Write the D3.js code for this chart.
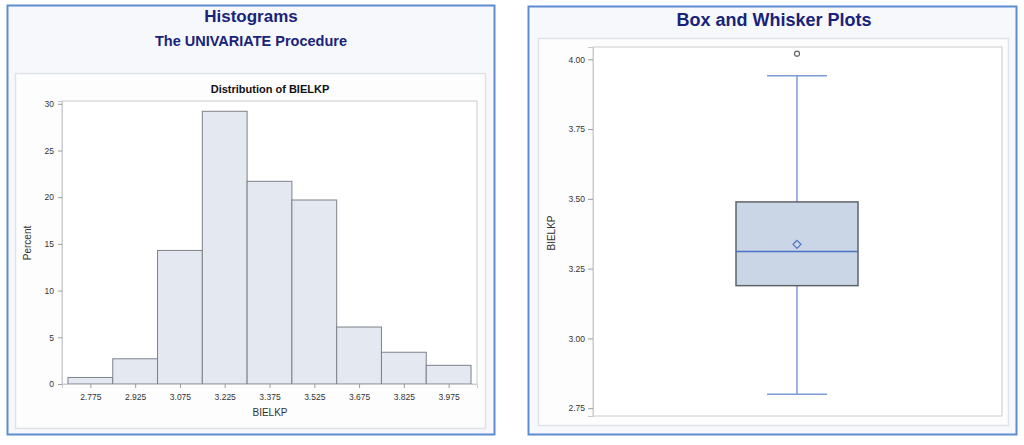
<!DOCTYPE html>
<html>
<head>
<meta charset="utf-8">
<script src="https://cdn.jsdelivr.net/npm/d3@7"></script>
<style>
  body { margin: 0; background: #fff; }
  svg { display: block; font-family: Arial, "Liberation Sans", sans-serif; }
</style>
</head>
<body>
<svg width="1024" height="445"></svg>
<script>
// histogram bins (midpoints) and percents
var binMids = [2.775, 2.925, 3.075, 3.225, 3.375, 3.525, 3.675, 3.825, 3.975];
var binPercent = [0.7, 2.7, 14.3, 29.2, 21.7, 19.7, 6.1, 3.4, 2.0];
var binWidth = 0.15;
var percentTicks = [0, 5, 10, 15, 20, 25, 30];

// box plot stats
var boxStats = { min: 2.80, q1: 3.189, median: 3.311, mean: 3.337, q3: 3.489, max: 3.941 };
var outliers = [4.02];
var boxTicks = [2.75, 3.00, 3.25, 3.50, 3.75, 4.00];

var svg = d3.select("svg");
var navy = "#18237a";

var panel = function(x, y, w, h) {
    svg.append("rect")
        .attr("x", x).attr("y", y).attr("width", w).attr("height", h)
        .attr("fill", "#f7f8fc").attr("stroke", "#5d8cd0").attr("stroke-width", 2);
};
var frame = function(x, y, w, h) {
    svg.append("rect")
        .attr("x", x).attr("y", y).attr("width", w).attr("height", h)
        .attr("fill", "#fdfdfe").attr("stroke", "#dfe2e6").attr("stroke-width", 1.5);
};

// ---- left: histogram ----
panel(7.5, 5.5, 487, 429);
frame(15.5, 73.5, 470, 355);

svg.append("text").attr("x", 251).attr("y", 22).attr("text-anchor", "middle")
    .attr("font-size", 17).attr("font-weight", "bold").attr("fill", navy).text("Histograms");
svg.append("text").attr("x", 251).attr("y", 46).attr("text-anchor", "middle")
    .attr("font-size", 14.5).attr("font-weight", "bold").attr("fill", navy).text("The UNIVARIATE Procedure");
svg.append("text").attr("x", 270).attr("y", 93).attr("text-anchor", "middle")
    .attr("font-size", 11).attr("font-weight", "bold").attr("fill", "#111").text("Distribution of BIELKP");

var hx = d3.scaleLinear().domain([2.68, 4.07]).range([62, 477]);
var hy = d3.scaleLinear().domain([0, 30.3]).range([384, 101]);

svg.append("rect").attr("x", 62).attr("y", 101).attr("width", 415).attr("height", 283)
    .attr("fill", "#fff").attr("stroke", "#c9cbce");

svg.selectAll("rect.bar")
    .data(binMids)
    .enter()
    .append("rect")
    .attr("class", "bar")
    .attr("x", function(d) { return hx(d - binWidth / 2); })
    .attr("y", function(d, i) { return hy(binPercent[i]); })
    .attr("width", function(d) { return hx(d + binWidth / 2) - hx(d - binWidth / 2); })
    .attr("height", function(d, i) { return hy(0) - hy(binPercent[i]); })
    .attr("fill", "#e3e8f1")
    .attr("stroke", "#7d8288")
    .attr("stroke-width", 1);

var hxAxis = svg.append("g").attr("transform", "translate(0,384)")
    .call(d3.axisBottom(hx).tickValues(binMids).tickFormat(d3.format(".3f")).tickSizeOuter(0).tickSize(4).tickPadding(6));
var hyAxis = svg.append("g").attr("transform", "translate(62,0)")
    .call(d3.axisLeft(hy).tickValues(percentTicks).tickSizeOuter(0).tickSize(4).tickPadding(4));
[hxAxis, hyAxis].forEach(function(a) {
    a.select(".domain").attr("stroke", "#c9cbce");
    a.selectAll(".tick line").attr("stroke", "#9a9da1");
    a.selectAll(".tick text").attr("fill", "#333").attr("font-size", 8.5);
});

svg.append("text").attr("x", 270).attr("y", 416).attr("text-anchor", "middle")
    .attr("font-size", 10).attr("fill", "#333").text("BIELKP");
svg.append("text").attr("transform", "translate(31,243) rotate(-90)").attr("text-anchor", "middle")
    .attr("font-size", 10).attr("fill", "#333").text("Percent");

// ---- right: box plot ----
panel(528.5, 6.5, 488, 428);
frame(538.5, 38.5, 470, 387);

svg.append("text").attr("x", 774).attr("y", 26).attr("text-anchor", "middle")
    .attr("font-size", 18).attr("font-weight", "bold").attr("fill", navy).text("Box and Whisker Plots");

var by = d3.scaleLinear().domain([2.722, 4.044]).range([416, 47]);
var cx = 797;

svg.append("rect").attr("x", 593).attr("y", 47).attr("width", 409).attr("height", 369)
    .attr("fill", "#fff").attr("stroke", "#c9cbce");

var byAxis = svg.append("g").attr("transform", "translate(593,0)")
    .call(d3.axisLeft(by).tickValues(boxTicks).tickFormat(d3.format(".2f")).tickSizeOuter(0).tickSize(5).tickPadding(3));
byAxis.select(".domain").attr("stroke", "#c9cbce");
byAxis.selectAll(".tick line").attr("stroke", "#9a9da1");
byAxis.selectAll(".tick text").attr("fill", "#333").attr("font-size", 8.5);

svg.append("text").attr("transform", "translate(555,233) rotate(-90)").attr("text-anchor", "middle")
    .attr("font-size", 10).attr("fill", "#333").text("BIELKP");

var whisker = "#7b9bd8";
// whisker lines
svg.append("line").attr("x1", cx).attr("x2", cx).attr("y1", by(boxStats.max)).attr("y2", by(boxStats.q3))
    .attr("stroke", whisker).attr("stroke-width", 1.5);
svg.append("line").attr("x1", cx).attr("x2", cx).attr("y1", by(boxStats.q1)).attr("y2", by(boxStats.min))
    .attr("stroke", whisker).attr("stroke-width", 1.5);
[boxStats.max, boxStats.min].forEach(function(v) {
    svg.append("line").attr("x1", cx - 30).attr("x2", cx + 30).attr("y1", by(v)).attr("y2", by(v))
        .attr("stroke", whisker).attr("stroke-width", 1.5);
});
// box
svg.append("rect").attr("x", cx - 61).attr("y", by(boxStats.q3))
    .attr("width", 122).attr("height", by(boxStats.q1) - by(boxStats.q3))
    .attr("fill", "#cad6e6").attr("stroke", "#5f6368").attr("stroke-width", 1.5);
svg.append("line").attr("x1", cx - 61).attr("x2", cx + 61).attr("y1", by(boxStats.median)).attr("y2", by(boxStats.median))
    .attr("stroke", "#4d72c4").attr("stroke-width", 1.5);
svg.append("path").attr("d", d3.symbol(d3.symbolDiamond2, 40)())
    .attr("transform", "translate(" + cx + "," + by(boxStats.mean) + ")")
    .attr("fill", "none").attr("stroke", "#4d72c4").attr("stroke-width", 1.2);
svg.selectAll("circle.outlier").data(outliers).enter().append("circle")
    .attr("class", "outlier").attr("cx", cx).attr("cy", function(d) { return by(d); }).attr("r", 2.5)
    .attr("fill", "none").attr("stroke", "#666").attr("stroke-width", 1.2);
</script>
</body>
</html>
